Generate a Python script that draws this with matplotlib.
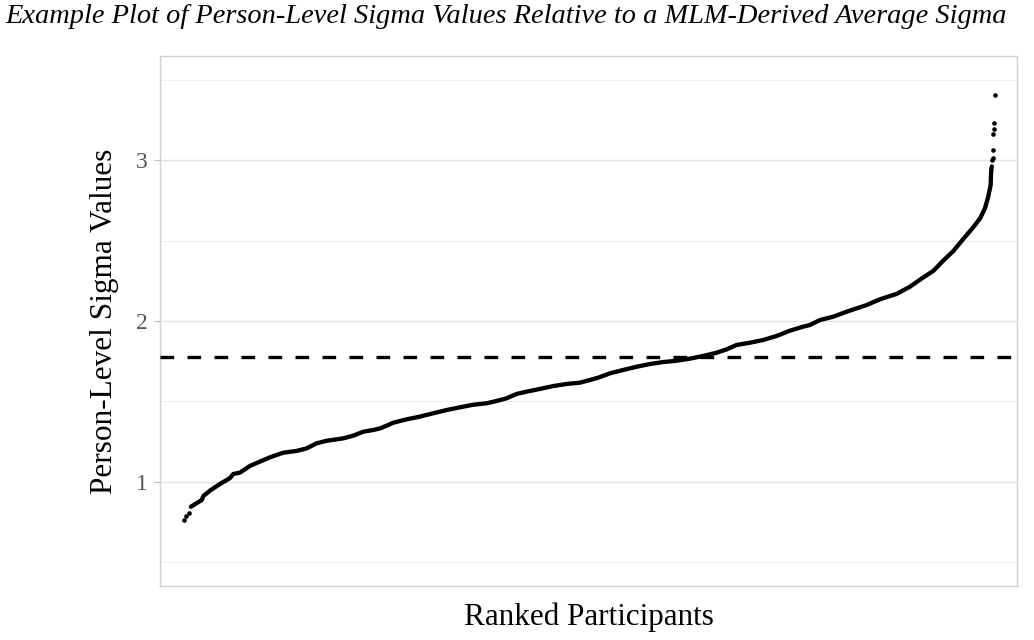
import matplotlib
matplotlib.use("Agg")
import matplotlib.pyplot as plt
import numpy as np

# Ranked participants (rank positions, N = 2001) and sigma values
rank = [1, 6, 14, 18, 32, 45, 49, 65, 90, 114, 123, 139, 164, 188, 213, 246,
        279, 304, 328, 353, 394, 419, 443, 468, 485, 505, 517, 550, 583, 616,
        649, 682, 715, 748, 772, 797, 822, 846, 879, 912, 945, 978, 1003, 1023,
        1052, 1085, 1118, 1151, 1183, 1216, 1249, 1282, 1315, 1340, 1364, 1397,
        1430, 1463, 1496, 1529, 1545, 1570, 1603, 1636, 1685, 1718, 1759, 1792,
        1825, 1850, 1874, 1899, 1924, 1948, 1965, 1977, 1985, 1991, 1992, 1993,
        1994, 1995, 1996, 1997, 1998, 1999]
sigma = [0.764, 0.790, 0.810, 0.846, 0.868, 0.888, 0.913, 0.946, 0.988, 1.023,
         1.050, 1.058, 1.100, 1.126, 1.153, 1.182, 1.193, 1.209, 1.240, 1.256,
         1.271, 1.288, 1.312, 1.323, 1.333, 1.354, 1.368, 1.389, 1.406, 1.427,
         1.447, 1.464, 1.480, 1.489, 1.503, 1.520, 1.547, 1.561, 1.578, 1.596,
         1.609, 1.617, 1.634, 1.648, 1.675, 1.696, 1.716, 1.733, 1.745, 1.753,
         1.766, 1.783, 1.803, 1.824, 1.851, 1.865, 1.882, 1.907, 1.940, 1.965,
         1.975, 2.006, 2.027, 2.058, 2.099, 2.135, 2.168, 2.213, 2.271, 2.312,
         2.375, 2.435, 2.511, 2.582, 2.638, 2.700, 2.772, 2.845, 2.917, 2.948,
         2.960, 3.000, 3.014, 3.062, 3.161, 3.193]
outlier_rank = [2000, 2001]
outlier_sigma = [3.228, 3.404]

mlm_sigma = 1.778
y_ticks = [1, 2, 3]
y_minor = [0.5, 1.5, 2.5, 3.5]

title = "Example Plot of Person-Level Sigma Values Relative to a MLM-Derived Average Sigma"
xlabel = "Ranked Participants"
ylabel = "Person-Level Sigma Values"

serif = ["Liberation Serif", "DejaVu Serif"]

fig = plt.figure(figsize=(10.34, 6.40), dpi=100)
ax = fig.add_axes([160 / 1034, (640 - 586) / 640, (1017 - 160) / 1034, (586 - 56) / 640])

ax.set_xlim(-58, 2056)
ax.set_ylim(0.354, 3.646)

# grid
for v in y_minor:
    ax.axhline(v, color="#efefef", lw=0.8, zorder=0)
for v in y_ticks:
    ax.axhline(v, color="#e3e3e3", lw=1.0, zorder=0)

r = np.array(rank)
s = np.array(sigma)
cont = (s >= 0.84) & (s <= 2.97)
# continuous part of the ranked points drawn as a thick stroke
ax.plot(r[cont], s[cont], color="black", lw=3.1, solid_capstyle="round",
        solid_joinstyle="round", zorder=3)
# separated points
ax.scatter(r[~cont], s[~cont], s=11, color="black", linewidths=0, zorder=3)
ax.scatter(outlier_rank, outlier_sigma, s=11, color="black", linewidths=0, zorder=3)

# MLM-derived average sigma
ax.axhline(mlm_sigma, color="black", lw=2.4, ls=(0, (4.1, 4.0)), zorder=4)

ax.set_yticks(y_ticks)
ax.set_yticklabels([str(t) for t in y_ticks])
ax.set_xticks([])
ax.tick_params(axis="y", length=4, width=0.8, color="#bdbdbd", pad=5,
               labelsize=17, labelcolor="#555555")
for lab in ax.get_yticklabels():
    lab.set_family(serif)

for sp in ax.spines.values():
    sp.set_color("#d0d0d0")
    sp.set_linewidth(1.0)

ax.set_xlabel(xlabel, family=serif, fontsize=22.4, color="black", labelpad=12)
ax.set_ylabel(ylabel, family=serif, fontsize=22.5, color="black", labelpad=12)

fig.text(5 / 1034, 1 - 4 / 640, title, family=serif, style="italic", fontsize=20.4,
         ha="left", va="top", color="black")

fig.savefig("out.png", dpi=100, facecolor="white")
